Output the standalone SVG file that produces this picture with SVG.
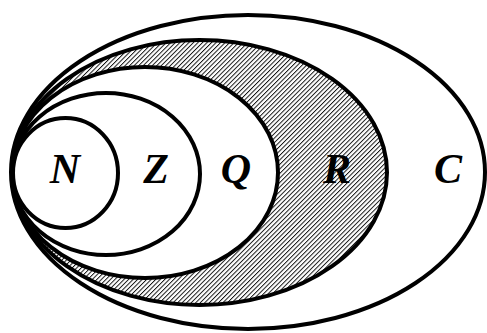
<svg xmlns="http://www.w3.org/2000/svg" width="487" height="333" viewBox="0 0 487 333">
<defs>
<pattern id="hatch" patternUnits="userSpaceOnUse" width="3.2" height="10" patternTransform="rotate(45)">
<rect width="3.2" height="10" fill="#fff"/>
<line x1="0.5" y1="0" x2="0.5" y2="10" stroke="#000" stroke-width="0.9"/>
</pattern>
</defs>
<style>
.set{stroke:#000;stroke-width:4;fill:#fff}
.lbl{font-family:"Liberation Serif","Times New Roman",serif;font-weight:bold;font-style:italic;font-size:42px;fill:#000;text-anchor:middle}
</style>
<rect width="487" height="333" fill="#fff"/>
<g id="C"><ellipse class="set" cx="248" cy="172" rx="237" ry="157"/><text class="lbl" x="448" y="183">C</text></g>
<g id="R"><ellipse class="set" cx="199.5" cy="172.5" rx="187.5" ry="132.5" style="fill:url(#hatch)"/><text class="lbl" x="337" y="183">R</text></g>
<g id="Q"><ellipse class="set" cx="145" cy="172.5" rx="133" ry="105.5"/><text class="lbl" x="236" y="183">Q</text></g>
<g id="Z"><ellipse class="set" cx="106" cy="174" rx="94" ry="81"/><text class="lbl" x="156" y="183">Z</text></g>
<g id="N"><ellipse class="set" cx="65.5" cy="173" rx="52.5" ry="55"/><text class="lbl" x="65" y="183">N</text></g>
</svg>
